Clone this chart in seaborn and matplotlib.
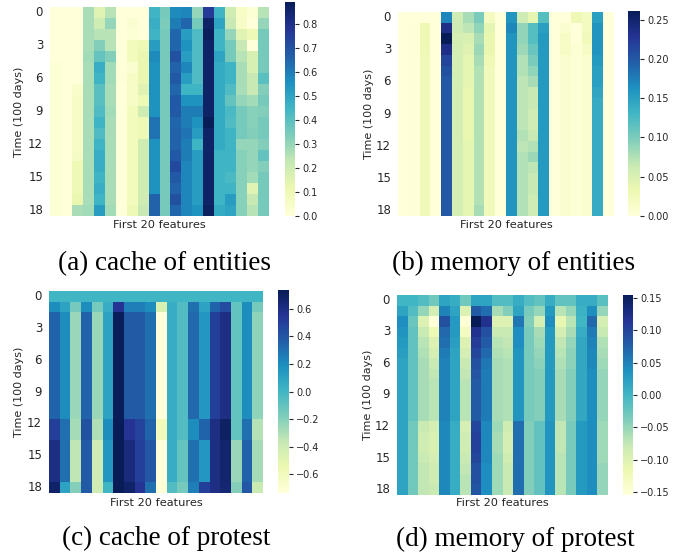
import numpy as np
import matplotlib
matplotlib.use("Agg")
import matplotlib.pyplot as plt
import seaborn as sns

# ---------------- data ----------------
time_labels = [str(i) for i in range(19)]
x_label = "First 20 features"
y_label = "Time (100 days)"
captions = ["(a) cache of entities", "(b) memory of entities",
            "(c) cache of protest", "(d) memory of protest"]

# (a) cache of entities: one list per feature (column), 19 time steps each
cache_entities_cols = [
    [0.00,0.00,0.00,0.00,0.00,0.02,0.02,0.02,0.02,0.02,0.02,0.02,0.02,0.02,0.02,0.02,0.02,0.02,0.02],
    [0.00,0.00,0.00,0.00,0.00,0.00,0.00,0.00,0.00,0.00,0.00,0.00,0.00,0.00,0.00,0.00,0.00,0.00,0.00],
    [0.00,0.00,0.00,0.00,0.00,0.00,0.00,0.04,0.05,0.05,0.05,0.05,0.05,0.06,0.10,0.10,0.10,0.12,0.27],
    [0.27,0.27,0.27,0.27,0.28,0.27,0.27,0.27,0.27,0.27,0.27,0.27,0.27,0.27,0.27,0.27,0.27,0.27,0.28],
    [0.15,0.20,0.25,0.33,0.38,0.47,0.45,0.40,0.40,0.42,0.45,0.42,0.45,0.47,0.47,0.45,0.47,0.45,0.52],
    [0.25,0.30,0.25,0.25,0.33,0.28,0.28,0.27,0.27,0.28,0.27,0.27,0.27,0.27,0.27,0.27,0.27,0.27,0.28],
    [0.00,0.00,0.00,0.00,0.00,0.01,0.01,0.00,0.00,0.00,0.00,0.00,0.00,0.00,0.00,0.00,0.00,0.00,0.00],
    [0.00,0.03,0.02,0.08,0.08,0.03,0.05,0.05,0.05,0.08,0.08,0.08,0.08,0.08,0.08,0.08,0.08,0.08,0.10],
    [0.00,0.00,0.00,0.10,0.12,0.12,0.12,0.15,0.10,0.20,0.10,0.10,0.20,0.20,0.20,0.20,0.20,0.20,0.22],
    [0.45,0.47,0.45,0.52,0.57,0.55,0.55,0.55,0.55,0.55,0.62,0.62,0.55,0.55,0.55,0.55,0.55,0.66,0.66],
    [0.35,0.34,0.35,0.35,0.35,0.35,0.35,0.35,0.35,0.35,0.35,0.35,0.35,0.35,0.35,0.35,0.35,0.35,0.35],
    [0.57,0.60,0.65,0.65,0.70,0.66,0.68,0.65,0.68,0.68,0.65,0.66,0.66,0.68,0.72,0.68,0.66,0.70,0.65],
    [0.58,0.65,0.52,0.55,0.52,0.58,0.52,0.45,0.55,0.60,0.60,0.62,0.60,0.60,0.58,0.58,0.58,0.58,0.58],
    [0.30,0.35,0.42,0.42,0.42,0.42,0.42,0.45,0.55,0.60,0.55,0.52,0.45,0.52,0.52,0.52,0.52,0.52,0.55],
    [0.76,0.86,0.88,0.86,0.86,0.86,0.86,0.86,0.86,0.86,0.89,0.86,0.86,0.86,0.86,0.86,0.86,0.86,0.87],
    [0.45,0.50,0.45,0.45,0.50,0.48,0.48,0.48,0.48,0.48,0.48,0.48,0.48,0.45,0.45,0.45,0.45,0.45,0.48],
    [0.20,0.22,0.30,0.35,0.35,0.45,0.45,0.42,0.38,0.43,0.42,0.45,0.45,0.45,0.45,0.43,0.45,0.52,0.50],
    [0.05,0.05,0.15,0.22,0.25,0.27,0.27,0.27,0.30,0.35,0.35,0.35,0.30,0.32,0.32,0.32,0.32,0.32,0.32],
    [0.02,0.00,0.10,0.00,0.18,0.18,0.22,0.22,0.28,0.32,0.32,0.33,0.30,0.30,0.30,0.28,0.15,0.22,0.25],
    [0.25,0.30,0.35,0.35,0.35,0.35,0.40,0.33,0.35,0.33,0.35,0.35,0.33,0.38,0.33,0.35,0.35,0.35,0.35],
]

# (b) memory of entities: one list per feature (column)
memory_entities_cols = [
    [0.000,0.000,0.000,0.000,0.000,0.000,0.000,0.000,0.000,0.000,0.000,0.000,0.000,0.000,0.000,0.000,0.000,0.000,0.000],
    [0.000,0.002,0.002,0.002,0.002,0.002,0.002,0.002,0.002,0.002,0.002,0.002,0.002,0.002,0.002,0.002,0.002,0.002,0.002],
    [0.000,0.030,0.030,0.030,0.028,0.028,0.028,0.028,0.028,0.028,0.028,0.028,0.028,0.028,0.028,0.028,0.028,0.028,0.028],
    [0.000,0.000,0.000,0.000,0.000,0.000,0.000,0.000,0.000,0.000,0.000,0.000,0.000,0.000,0.000,0.000,0.000,0.000,0.000],
    [0.170,0.235,0.261,0.235,0.215,0.205,0.200,0.200,0.200,0.200,0.200,0.200,0.200,0.200,0.200,0.200,0.200,0.200,0.200],
    [0.060,0.060,0.055,0.055,0.055,0.055,0.055,0.055,0.055,0.055,0.055,0.055,0.055,0.055,0.055,0.055,0.055,0.055,0.055],
    [0.080,0.070,0.050,0.045,0.040,0.040,0.040,0.035,0.035,0.035,0.035,0.035,0.040,0.040,0.040,0.040,0.040,0.040,0.040],
    [0.100,0.090,0.080,0.085,0.080,0.075,0.075,0.075,0.075,0.075,0.075,0.075,0.075,0.075,0.075,0.075,0.075,0.075,0.080],
    [0.020,0.040,0.035,0.035,0.030,0.025,0.025,0.025,0.025,0.025,0.025,0.025,0.025,0.025,0.025,0.025,0.025,0.025,0.025],
    [0.000,0.000,0.000,0.000,0.000,0.000,0.000,0.000,0.000,0.000,0.000,0.000,0.000,0.000,0.000,0.000,0.000,0.000,0.000],
    [0.160,0.170,0.160,0.160,0.160,0.160,0.160,0.160,0.160,0.160,0.160,0.160,0.160,0.160,0.160,0.160,0.160,0.160,0.160],
    [0.060,0.090,0.090,0.085,0.075,0.075,0.070,0.070,0.070,0.070,0.070,0.075,0.070,0.075,0.075,0.075,0.075,0.075,0.075],
    [0.040,0.120,0.120,0.110,0.100,0.090,0.080,0.065,0.065,0.060,0.060,0.065,0.075,0.085,0.070,0.065,0.065,0.060,0.060],
    [0.120,0.150,0.155,0.155,0.155,0.155,0.155,0.155,0.155,0.155,0.155,0.155,0.155,0.155,0.155,0.155,0.155,0.155,0.155],
    [0.000,0.000,0.000,0.000,0.000,0.000,0.000,0.000,0.000,0.000,0.000,0.000,0.000,0.000,0.000,0.000,0.000,0.000,0.000],
    [0.000,0.010,0.015,0.015,0.010,0.010,0.010,0.010,0.010,0.010,0.010,0.010,0.010,0.010,0.010,0.010,0.010,0.010,0.010],
    [0.030,0.000,0.000,0.005,0.005,0.005,0.005,0.005,0.005,0.005,0.005,0.005,0.005,0.005,0.005,0.005,0.005,0.005,0.005],
    [0.020,0.020,0.025,0.015,0.010,0.010,0.010,0.010,0.010,0.010,0.010,0.010,0.010,0.010,0.010,0.010,0.010,0.010,0.010],
    [0.150,0.160,0.160,0.160,0.155,0.150,0.150,0.145,0.140,0.140,0.140,0.140,0.140,0.140,0.140,0.140,0.140,0.140,0.140],
    [0.000,0.000,0.000,0.000,0.000,0.000,0.000,0.000,0.000,0.000,0.000,0.000,0.000,0.000,0.000,0.000,0.000,0.000,0.000],
]

# (c) cache of protest: one list per time step (row), 20 features each
cache_protest_rows = [
    [0.00,0.00,0.00,0.00,0.00,0.00,0.00,0.00,0.00,0.00,0.00,0.00,0.00,0.00,0.00,0.00,0.00,0.00,0.00,0.00],
    [0.20,0.10,-0.15,0.20,-0.15,0.05,0.55,0.25,0.25,0.20,-0.45,0.05,-0.05,0.30,0.10,0.35,0.45,-0.10,0.20,-0.15],
    [0.35,0.20,-0.25,0.35,-0.25,0.10,0.72,0.38,0.38,0.30,-0.735,0.05,-0.05,0.33,0.15,0.50,0.60,-0.10,0.20,-0.22],
    [0.35,0.20,-0.25,0.35,-0.25,0.10,0.72,0.38,0.38,0.30,-0.735,0.05,-0.05,0.33,0.15,0.50,0.60,-0.10,0.20,-0.22],
    [0.35,0.20,-0.25,0.35,-0.25,0.10,0.72,0.38,0.38,0.30,-0.735,0.05,-0.05,0.33,0.15,0.50,0.60,-0.10,0.20,-0.22],
    [0.35,0.20,-0.25,0.35,-0.25,0.10,0.72,0.38,0.38,0.30,-0.735,0.05,-0.05,0.33,0.15,0.50,0.60,-0.10,0.20,-0.22],
    [0.35,0.20,-0.25,0.35,-0.25,0.10,0.72,0.38,0.38,0.30,-0.735,0.05,-0.05,0.33,0.15,0.50,0.60,-0.10,0.20,-0.22],
    [0.35,0.20,-0.25,0.35,-0.25,0.10,0.72,0.38,0.38,0.30,-0.735,0.05,-0.05,0.33,0.15,0.50,0.60,-0.10,0.20,-0.22],
    [0.35,0.20,-0.25,0.35,-0.25,0.10,0.72,0.38,0.38,0.30,-0.735,0.05,-0.05,0.33,0.15,0.50,0.60,-0.10,0.20,-0.22],
    [0.35,0.20,-0.25,0.35,-0.25,0.10,0.72,0.38,0.38,0.30,-0.735,0.05,-0.05,0.33,0.15,0.50,0.60,-0.10,0.20,-0.22],
    [0.35,0.20,-0.25,0.35,-0.25,0.10,0.72,0.38,0.38,0.30,-0.735,0.05,-0.05,0.33,0.15,0.50,0.60,-0.10,0.20,-0.22],
    [0.35,0.20,-0.25,0.35,-0.25,0.10,0.72,0.38,0.38,0.30,-0.735,0.05,-0.05,0.33,0.15,0.50,0.60,-0.10,0.20,-0.22],
    [0.50,0.30,-0.28,0.42,-0.30,0.20,0.735,0.55,0.48,0.35,-0.60,0.05,-0.05,0.20,0.35,0.60,0.70,-0.10,0.30,-0.32],
    [0.50,0.30,-0.28,0.42,-0.30,0.20,0.735,0.55,0.48,0.35,-0.60,0.05,-0.05,0.20,0.35,0.60,0.70,-0.10,0.30,-0.32],
    [0.60,0.30,-0.35,0.38,-0.40,0.15,0.735,0.62,0.50,0.40,-0.735,0.05,-0.10,0.30,0.15,0.60,0.67,-0.25,0.35,-0.28],
    [0.60,0.30,-0.35,0.38,-0.40,0.15,0.735,0.62,0.50,0.40,-0.735,0.05,-0.10,0.30,0.15,0.60,0.67,-0.25,0.35,-0.28],
    [0.60,0.30,-0.35,0.38,-0.40,0.15,0.735,0.62,0.50,0.40,-0.735,0.05,-0.10,0.30,0.15,0.60,0.67,-0.25,0.35,-0.28],
    [0.60,0.30,-0.35,0.38,-0.40,0.15,0.735,0.62,0.50,0.40,-0.735,0.05,-0.10,0.30,0.15,0.60,0.67,-0.25,0.35,-0.28],
    [0.68,0.10,-0.20,0.38,-0.40,0.00,0.735,0.68,0.55,0.30,-0.72,-0.05,-0.15,0.25,0.50,0.60,0.65,-0.20,0.40,-0.38],
]

# (d) memory of protest: one list per time step (row)
memory_protest_rows = [
    [0.000,0.000,-0.010,-0.030,0.020,0.010,-0.030,0.020,0.020,-0.010,-0.010,0.010,-0.010,-0.020,0.010,-0.020,-0.020,0.010,0.010,-0.015],
    [0.020,-0.010,-0.050,-0.090,0.050,0.020,-0.100,0.080,0.065,-0.060,-0.040,0.020,-0.035,-0.050,0.030,-0.070,-0.050,0.005,0.040,-0.050],
    [0.040,-0.025,-0.100,-0.155,0.090,0.030,-0.150,0.155,0.120,-0.100,-0.100,0.060,-0.040,-0.090,0.040,-0.110,-0.070,0.000,0.070,-0.090],
    [0.035,-0.020,-0.080,-0.120,0.070,0.030,-0.130,0.120,0.090,-0.080,-0.080,0.040,-0.035,-0.060,0.030,-0.090,-0.060,0.010,0.055,-0.080],
    [0.030,-0.020,-0.070,-0.100,0.065,0.025,-0.100,0.110,0.080,-0.070,-0.075,0.040,-0.035,-0.055,0.030,-0.075,-0.050,0.015,0.050,-0.065],
    [0.025,-0.020,-0.065,-0.090,0.055,0.020,-0.090,0.100,0.070,-0.065,-0.070,0.035,-0.035,-0.050,0.030,-0.070,-0.045,0.015,0.045,-0.060],
    [0.020,-0.020,-0.060,-0.080,0.050,0.020,-0.080,0.090,0.060,-0.060,-0.065,0.035,-0.035,-0.045,0.030,-0.065,-0.045,0.015,0.045,-0.055],
    [0.020,-0.020,-0.060,-0.075,0.050,0.020,-0.075,0.085,0.055,-0.060,-0.065,0.035,-0.035,-0.040,0.030,-0.060,-0.040,0.015,0.040,-0.050],
    [0.020,-0.020,-0.060,-0.070,0.050,0.020,-0.070,0.080,0.055,-0.060,-0.065,0.035,-0.035,-0.040,0.030,-0.060,-0.040,0.015,0.040,-0.050],
    [0.020,-0.020,-0.060,-0.070,0.050,0.020,-0.070,0.080,0.055,-0.060,-0.065,0.035,-0.035,-0.040,0.030,-0.060,-0.040,0.015,0.040,-0.050],
    [0.020,-0.020,-0.060,-0.070,0.050,0.020,-0.070,0.080,0.055,-0.060,-0.065,0.035,-0.035,-0.040,0.030,-0.060,-0.040,0.015,0.040,-0.050],
    [0.020,-0.020,-0.060,-0.070,0.050,0.020,-0.070,0.080,0.055,-0.060,-0.065,0.035,-0.035,-0.040,0.030,-0.060,-0.040,0.015,0.040,-0.050],
    [0.020,-0.030,-0.080,-0.090,0.045,0.010,-0.090,0.100,0.045,-0.055,-0.085,0.065,-0.040,-0.020,0.035,-0.075,-0.035,0.030,0.040,-0.055],
    [0.020,-0.030,-0.085,-0.095,0.045,0.010,-0.085,0.105,0.045,-0.060,-0.090,0.065,-0.040,-0.020,0.035,-0.075,-0.035,0.030,0.040,-0.055],
    [0.020,-0.030,-0.085,-0.095,0.045,0.010,-0.085,0.105,0.045,-0.060,-0.090,0.065,-0.040,-0.020,0.035,-0.075,-0.035,0.030,0.040,-0.055],
    [0.020,-0.030,-0.080,-0.090,0.045,0.010,-0.080,0.100,0.045,-0.055,-0.085,0.065,-0.040,-0.020,0.035,-0.070,-0.035,0.030,0.040,-0.055],
    [0.020,-0.030,-0.075,-0.085,0.045,0.010,-0.075,0.090,0.040,-0.055,-0.080,0.065,-0.040,-0.020,0.035,-0.070,-0.035,0.030,0.040,-0.050],
    [0.020,-0.030,-0.075,-0.085,0.045,0.010,-0.070,0.090,0.040,-0.055,-0.080,0.065,-0.040,-0.020,0.035,-0.070,-0.035,0.030,0.040,-0.050],
    [0.020,-0.030,-0.075,-0.080,0.045,0.010,-0.070,0.085,0.040,-0.055,-0.080,0.065,-0.040,-0.020,0.035,-0.070,-0.035,0.030,0.040,-0.050],
]

# ---------------- figure ----------------
W, H = 680, 554
fig = plt.figure(figsize=(6.8, 5.54), dpi=100)
fig.patch.set_facecolor("white")
TXT = "#262626"


def box(x0, y0, x1, y1):
    return [x0 / W, 1 - y1 / H, (x1 - x0) / W, (y1 - y0) / H]


panels = [
    (np.array(cache_entities_cols).T, (50, 7, 269, 216), (285, 2, 295, 216), 19, 225, (165, 264)),
    (np.array(memory_entities_cols).T, (398, 12, 614, 216), (628, 11, 640, 216), 369, 225, (514, 263)),
    (np.array(cache_protest_rows), (49, 291, 263, 493), (278, 290, 289, 493), 19, 503, (166, 538)),
    (np.array(memory_protest_rows), (397, 295, 608, 495), (623, 295, 633, 495), 368, 503, (515, 539)),
]

for (data, hb, cb, ylx, xly, cap_xy), cap in zip(panels, captions):
    ax = fig.add_axes(box(*hb))
    cax = fig.add_axes(box(*cb))
    sns.heatmap(data, ax=ax, cbar_ax=cax, cmap="YlGnBu",
                xticklabels=False, yticklabels=3)
    ax.set_yticklabels([time_labels[i] for i in range(0, 19, 3)], rotation=0)
    ax.tick_params(axis="y", length=0, pad=5, labelsize=8.5, labelcolor=TXT)
    ax.tick_params(axis="x", length=0)
    ax.set_xlabel("")
    ax.set_ylabel("")
    cax.tick_params(length=3, width=0.8, labelsize=7, color=TXT,
                    labelcolor=TXT, pad=2)
    # axis titles
    fig.text((hb[0] + hb[2]) / 2 / W, 1 - xly / H, x_label, ha="center",
             va="center", fontsize=8.2, color=TXT)
    fig.text(ylx / W, 1 - ((hb[1] + hb[3]) / 2) / H, y_label, ha="center",
             va="center", rotation=90, fontsize=8.0, color=TXT)
    # caption
    fig.text(cap_xy[0] / W, 1 - cap_xy[1] / H, cap, ha="center", va="center",
             fontsize=19.5, family="Liberation Serif", color="black")

fig.savefig("out.png", dpi=100, facecolor="white")
